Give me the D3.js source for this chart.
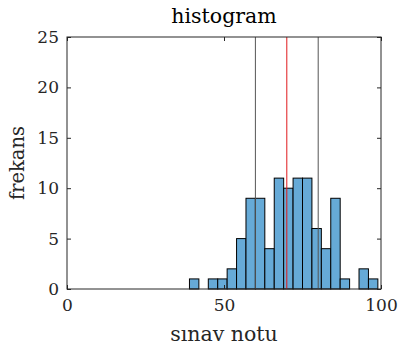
<!DOCTYPE html>
<html>
<head>
<meta charset="utf-8">
<script src="https://cdn.jsdelivr.net/npm/d3@7"></script>
<style>
  body { margin: 0; background: #fff; }
  svg { display: block; }
  text { font-family: "DejaVu Serif", serif; fill: #262626; }
</style>
</head>
<body>
<svg id="chart" width="400" height="348"></svg>
<script>
// histogram bins (width 3, from 0 to 99) and counts
const binEdges = d3.range(0, 100, 3);
const counts = [0, 0, 0, 0, 0, 0, 0, 0, 0, 0, 0, 0, 0, 1, 0, 1, 1, 2, 5, 9, 9, 4, 11, 10, 11, 11, 6, 4, 9, 1, 0, 2, 1];
const binWidth = 3;
const xTicks = [0, 50, 100];
const yTicks = [0, 5, 10, 15, 20, 25];
const refLines = [{ x: 60, color: '#555555' }, { x: 70, color: '#e0191c' }, { x: 80, color: '#555555' }];

const svg = d3.select('#chart');
const margin = { top: 37, right: 19, bottom: 59, left: 67 };
const width = 400, height = 348;
const w = width - margin.left - margin.right;
const h = height - margin.top - margin.bottom;

const x = d3.scaleLinear().domain([0, 100]).range([0, w]);
const y = d3.scaleLinear().domain([0, 25]).range([h, 0]);

const g = svg.append('g').attr('transform', `translate(${margin.left},${margin.top})`);

const bins = binEdges.map((x0, i) => ({ x0, x1: x0 + binWidth, n: counts[i] }));

g.selectAll('.bar')
    .data(bins)
    .enter()
    .append('rect')
    .attr('class', 'bar')
    .attr('x', d => x(d.x0))
    .attr('y', d => y(d.n))
    .attr('width', d => x(d.x1) - x(d.x0))
    .attr('height', d => y(0) - y(d.n))
    .attr('fill', '#66aad7')
    .attr('stroke', '#000')
    .attr('stroke-width', 1);

g.selectAll('.ref')
    .data(refLines)
    .enter()
    .append('line')
    .attr('x1', d => x(d.x))
    .attr('x2', d => x(d.x))
    .attr('y1', 0)
    .attr('y2', h)
    .attr('stroke', d => d.color)
    .attr('stroke-width', 1);

// axes, MATLAB style: ticks inside, box
const tickLen = 4;
const styleAxis = sel => {
    sel.select('.domain').remove();
    sel.selectAll('line').attr('stroke', '#262626');
    sel.selectAll('text').style('font-size', '17px').style('font-family', '"DejaVu Serif", serif');
};

g.append('g')
    .attr('transform', `translate(0,${h})`)
    .call(d3.axisBottom(x).tickValues(xTicks).tickSize(-tickLen).tickPadding(10))
    .call(styleAxis);
g.append('g')
    .call(d3.axisTop(x).tickValues(xTicks).tickSize(-tickLen).tickFormat(''))
    .call(styleAxis);
g.append('g')
    .call(d3.axisLeft(y).tickValues(yTicks).tickSize(-tickLen).tickPadding(8))
    .call(styleAxis);
g.append('g')
    .attr('transform', `translate(${w},0)`)
    .call(d3.axisRight(y).tickValues(yTicks).tickSize(-tickLen).tickFormat(''))
    .call(styleAxis);

g.append('rect')
    .attr('width', w)
    .attr('height', h)
    .attr('fill', 'none')
    .attr('stroke', '#262626')
    .attr('stroke-width', 1);

svg.append('text')
    .attr('x', margin.left + w / 2)
    .attr('y', 23)
    .attr('text-anchor', 'middle')
    .style('font-size', '20.5px')
    .style('fill', '#000')
    .text('histogram');

svg.append('text')
    .attr('x', margin.left + w / 2)
    .attr('y', 341)
    .attr('text-anchor', 'middle')
    .style('font-size', '20.5px')
    .text('sınav notu');

svg.append('text')
    .attr('transform', `translate(24,${margin.top + h / 2}) rotate(-90)`)
    .attr('text-anchor', 'middle')
    .style('font-size', '19.5px')
    .text('frekans');
</script>
</body>
</html>
